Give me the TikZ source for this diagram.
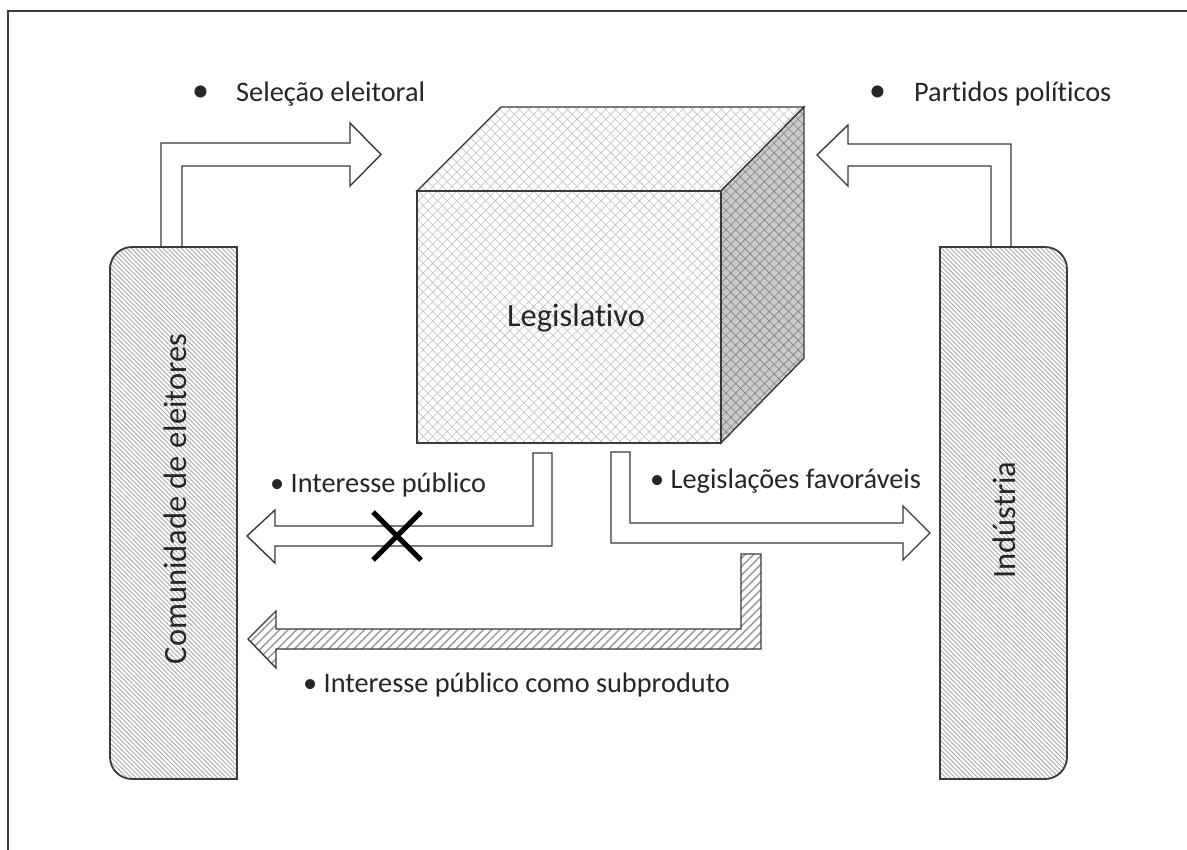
\documentclass[tikz,border=0pt]{standalone}
\usepackage{fontspec}
\setmainfont{Carlito}[Ligatures=NoCommon]
\usetikzlibrary{patterns.meta}

\definecolor{ink}{HTML}{262626}
\definecolor{edge}{HTML}{3A3A3A}
\definecolor{hatchgray}{HTML}{A8A8A8}
\definecolor{crossgray}{HTML}{BEBEBE}
\definecolor{sidegray}{HTML}{CACACA}

\tikzset{
  outline/.style={draw=edge, line width=1.4pt, line join=miter},
  blockarrow/.style={outline, fill=white},
  % ground colour first, then the pattern, then the outline on top
  panel/.style={outline, line width=1.8pt, preaction={fill=white},
    pattern={Lines[angle=-45,distance=3.2pt,line width=0.9pt]}, pattern color=hatchgray},
  face/.style={outline, preaction={fill=white},
    pattern={Hatch[angle=45,distance=6.8pt,line width=0.55pt]}, pattern color=crossgray},
  shadeface/.style={outline, preaction={fill=sidegray},
    pattern={Hatch[angle=45,distance=6.8pt,line width=0.6pt]}, pattern color=gray},
  stripedarrow/.style={outline, preaction={fill=white},
    pattern={Lines[angle=45,distance=6pt,line width=1.4pt]}, pattern color=hatchgray!90!black},
  label/.style={inner sep=0pt, text=ink, font=\fontsize{28.3}{33}\selectfont},
  biglabel/.style={inner sep=0pt, text=ink, font=\fontsize{32.5}{38}\selectfont},
}

\begin{document}
\begin{tikzpicture}[x=1pt,y=-1pt]
\useasboundingbox (0,0) rectangle (1187,850);
\fill[white] (0,0) rectangle (1187,850);

% page frame (top and left edges only)
\draw[draw=edge, line width=1.6pt] (1187,11) -- (8,11) -- (8,850);

% arrows from the side panels up to the chamber
\draw[blockarrow] (161,247) -- (161,143) -- (350,143) -- (350,123) -- (381,154.5)
  -- (350,186) -- (350,166) -- (182,166) -- (182,247) -- cycle;
\draw[blockarrow] (1011,247) -- (1011,144) -- (848,144) -- (848,125) -- (817,155)
  -- (848,186) -- (848,166) -- (991,166) -- (991,247) -- cycle;

% side panels
\draw[panel] (237,247) -- (132,247) arc(-90:-180:22) -- (110,757) arc(180:90:22)
  -- (237,779) -- cycle;
\draw[panel] (940,247) -- (1045,247) arc(-90:0:22) -- (1067,757) arc(0:90:22)
  -- (940,779) -- cycle;
\node[biglabel, rotate=90] (voters) at (175,499) {Comunidade de eleitores};
\node[biglabel, rotate=90] (industry) at (1004,520) {Indústria};

% the chamber as a cube
\draw[face] (417,191) -- (501,107) -- (804,107) -- (721,191) -- cycle;
\draw[shadeface] (721,191) -- (804,107) -- (804,358) -- (721,443) -- cycle;
\draw[face] (417,191) rectangle (721,443);
\node[biglabel] (chamber) at (576,318) {Legislativo};

% outgoing arrows below the chamber
\draw[blockarrow] (552,453) -- (552,546) -- (275,546) -- (275,563) -- (247,536)
  -- (275,510) -- (275,526) -- (533,526) -- (533,453) -- cycle;
\draw[blockarrow] (611,452) -- (611,543) -- (903,543) -- (903,560) -- (930,533)
  -- (903,506) -- (903,523) -- (630,523) -- (630,452) -- cycle;
\draw[stripedarrow] (761,554) -- (761,649) -- (276,649) -- (276,668) -- (248,639)
  -- (276,611) -- (276,629) -- (741,629) -- (741,554) -- cycle;

% blocked channel
\coordinate (xa) at (373,512);
\coordinate (xb) at (421,560);
\coordinate (xc) at (373,560);
\coordinate (xd) at (421,512);
\draw[line width=5pt, black] (xa) -- (xb) (xc) -- (xd);

% captions
\node[label, anchor=base west] (sel) at (192,102)
  {\makebox[44pt][l]{\fontsize{34}{34}\selectfont •}Seleção eleitoral};
\node[label, anchor=base west] (part) at (869,102)
  {\makebox[45pt][l]{\fontsize{34}{34}\selectfont •}Partidos políticos};
\node[label, anchor=base west] (pub) at (270,493) {• Interesse público};
\node[label, anchor=base west] (fav) at (650,488) {• Legislações favoráveis};
\node[label, anchor=base west] (sub) at (303,692) {• Interesse público como subproduto};
\end{tikzpicture}
\end{document}
